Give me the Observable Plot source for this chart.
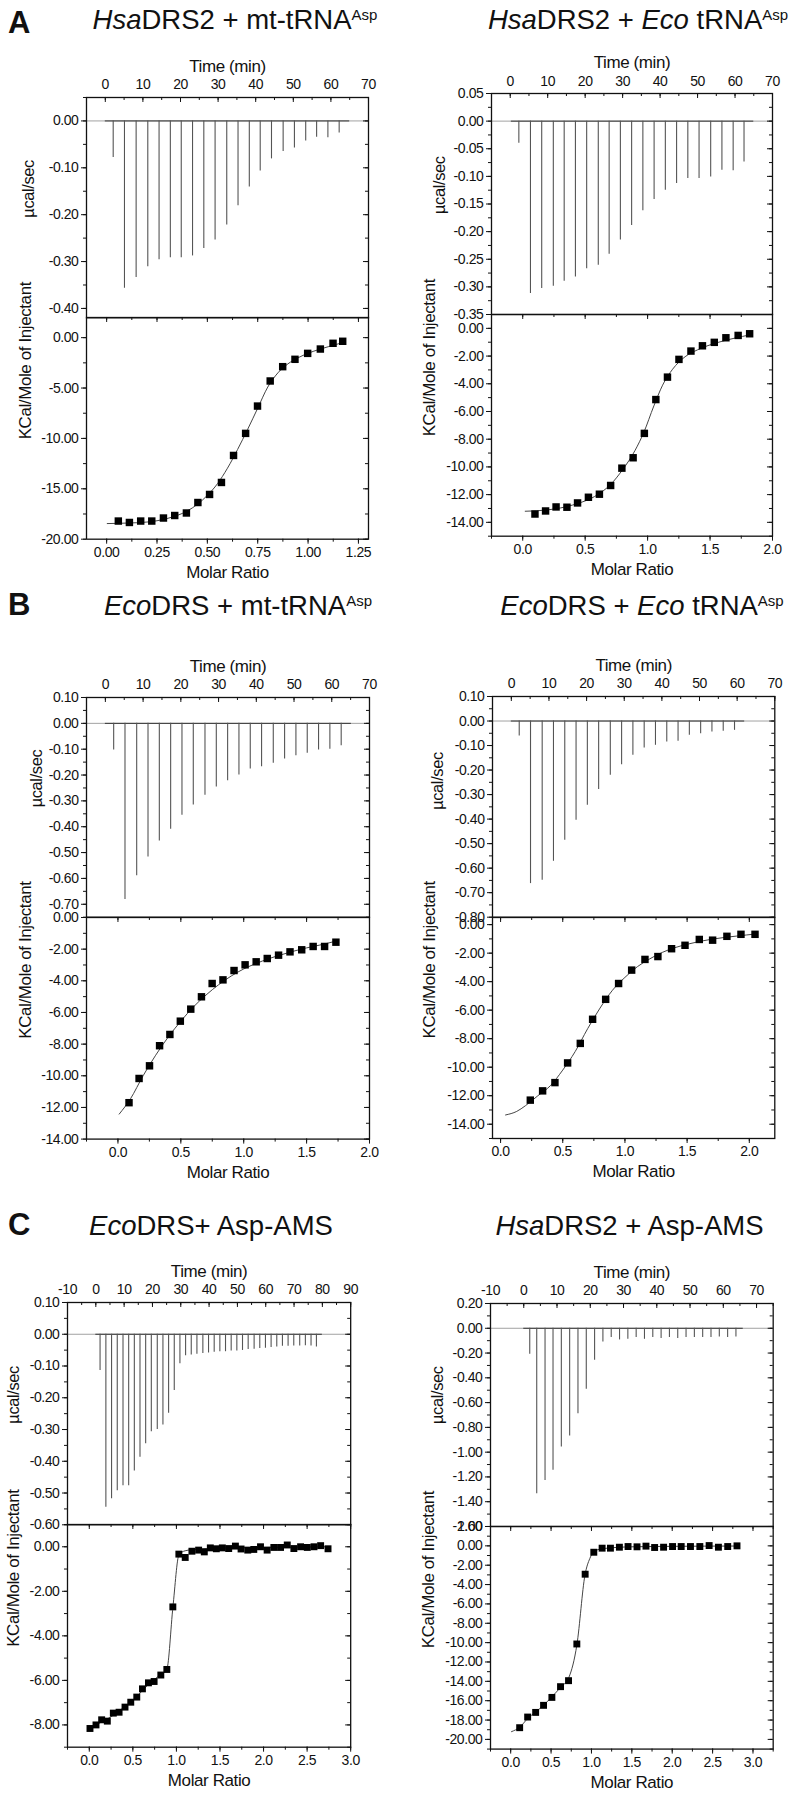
<!DOCTYPE html>
<html><head><meta charset="utf-8">
<script src="https://cdn.jsdelivr.net/npm/d3@7"></script>
<script src="https://cdn.jsdelivr.net/npm/@observablehq/plot@0.6"></script>
<style>
body{margin:0;background:#fff;}
#fig{position:relative;width:800px;height:1798px;overflow:hidden;background:#fff;font-family:"Liberation Sans",Arial,sans-serif;color:#111;}
.title{position:absolute;font-size:27.5px;white-space:nowrap;line-height:1;transform:translateX(-50%);}
.title sup{font-size:15px;vertical-align:9px;line-height:0;}
.letter{position:absolute;font-size:31px;font-weight:bold;line-height:1;}
svg.p{position:absolute;overflow:visible;}
</style></head><body><div id="fig"></div>
<script>
// ---------------- DATA ----------------
// Panel A, left: HsaDRS2 + mt-tRNAAsp
const aL_injTime = [2.1,5.1,8.2,11.3,14.3,17.3,20.2,23.2,26.2,29.2,32.3,35.3,38.3,41.2,44.2,47.3,50.3,53.3,56.2,59.2,62.2];
const aL_injPeak = [-0.078,-0.357,-0.334,-0.311,-0.296,-0.292,-0.292,-0.288,-0.272,-0.254,-0.222,-0.181,-0.141,-0.107,-0.081,-0.065,-0.058,-0.043,-0.035,-0.036,-0.026];
const aL_ratio = [0.058,0.113,0.169,0.224,0.282,0.338,0.396,0.453,0.511,0.570,0.630,0.690,0.749,0.812,0.874,0.935,0.998,1.061,1.124,1.172];
const aL_heat = [-18.2,-18.34,-18.2,-18.2,-17.9,-17.65,-17.4,-16.36,-15.56,-14.37,-11.69,-9.5,-6.79,-4.30,-2.88,-2.15,-1.56,-1.13,-0.56,-0.36];
const aL_fitRatio = [0.003,0.1,0.2,0.3,0.4,0.45,0.5,0.55,0.6,0.65,0.7,0.75,0.8,0.85,0.9,0.95,1.0,1.05,1.1,1.18];
const aL_fitHeat = [-18.45,-18.4,-18.3,-17.95,-17.2,-16.55,-15.65,-14.5,-12.95,-11.1,-9.1,-7.0,-4.9,-3.5,-2.6,-2.0,-1.55,-1.2,-0.9,-0.45];

// Panel A, right: HsaDRS2 + Eco tRNAAsp
const aR_injTime = [2.3,5.4,8.4,11.5,14.4,17.4,20.4,23.5,26.4,29.4,32.4,35.4,38.4,41.4,44.4,47.4,50.4,53.5,56.5,59.5,62.4];
const aR_injPeak = [-0.040,-0.312,-0.303,-0.299,-0.290,-0.282,-0.267,-0.261,-0.241,-0.215,-0.189,-0.162,-0.142,-0.125,-0.113,-0.104,-0.104,-0.101,-0.089,-0.090,-0.074];
const aR_ratio = [0.098,0.183,0.267,0.354,0.439,0.526,0.614,0.704,0.794,0.884,0.974,1.066,1.159,1.251,1.347,1.439,1.534,1.627,1.725,1.817];
const aR_heat = [-13.4,-13.18,-12.89,-12.91,-12.6,-12.19,-11.97,-11.34,-10.09,-9.34,-7.58,-5.14,-3.52,-2.24,-1.64,-1.26,-1.01,-0.68,-0.51,-0.39];
const aR_fitRatio = [0.02,0.2,0.4,0.6,0.7,0.8,0.9,0.97,1.05,1.12,1.2,1.3,1.4,1.55,1.7,1.82];
const aR_fitHeat = [-13.2,-13.1,-12.75,-12.0,-11.3,-10.2,-8.8,-7.5,-5.6,-4.1,-2.95,-2.05,-1.55,-1.05,-0.7,-0.47];

// Panel B, left: EcoDRS + mt-tRNAAsp
const bL_injTime = [2.2,5.2,8.3,11.3,14.3,17.3,20.3,23.3,26.4,29.4,32.4,35.4,38.4,41.4,44.5,47.5,50.5,53.5,56.5,59.5,62.5];
const bL_injPeak = [-0.103,-0.682,-0.590,-0.517,-0.455,-0.41,-0.356,-0.316,-0.278,-0.246,-0.222,-0.20,-0.177,-0.168,-0.154,-0.138,-0.125,-0.116,-0.103,-0.10,-0.087];
const bL_ratio = [0.088,0.168,0.251,0.331,0.413,0.496,0.579,0.664,0.749,0.835,0.923,1.011,1.099,1.187,1.277,1.368,1.461,1.552,1.643,1.733];
const bL_heat = [-11.7,-10.17,-9.37,-8.1,-7.39,-6.55,-5.79,-5.01,-4.17,-3.94,-3.35,-2.99,-2.8,-2.59,-2.38,-2.17,-2.04,-1.83,-1.83,-1.56];
const bL_fitRatio = [0.01,0.1,0.2,0.3,0.4,0.5,0.6,0.7,0.8,0.9,1.0,1.1,1.2,1.3,1.4,1.5,1.6,1.73];
const bL_fitHeat = [-12.42,-11.45,-10.0,-8.7,-7.55,-6.55,-5.65,-4.9,-4.25,-3.7,-3.25,-2.9,-2.6,-2.35,-2.12,-1.92,-1.75,-1.5];

// Panel B, right: EcoDRS + Eco tRNAAsp
const bR_injTime = [2.1,5.1,8.2,11.2,14.2,17.2,20.2,23.2,26.3,29.3,32.3,35.3,38.3,41.3,44.3,47.3,50.3,53.3,56.3,59.3];
const bR_injPeak = [-0.061,-0.663,-0.649,-0.572,-0.486,-0.405,-0.344,-0.279,-0.221,-0.178,-0.140,-0.110,-0.099,-0.086,-0.083,-0.058,-0.052,-0.045,-0.042,-0.038];
const bR_ratio = [0.239,0.338,0.437,0.539,0.641,0.740,0.845,0.949,1.054,1.161,1.265,1.375,1.483,1.598,1.705,1.820,1.933,2.046];
const bR_heat = [-12.31,-11.66,-11.08,-9.70,-8.33,-6.64,-5.24,-4.13,-3.19,-2.44,-2.24,-1.69,-1.45,-1.04,-1.09,-0.82,-0.68,-0.68];
const bR_fitRatio = [0.04,0.13,0.2,0.3,0.4,0.5,0.6,0.7,0.8,0.9,1.0,1.1,1.2,1.3,1.4,1.5,1.6,1.7,1.8,1.9,2.05];
const bR_fitHeat = [-13.35,-13.1,-12.7,-12.0,-11.3,-10.2,-8.9,-7.3,-5.85,-4.6,-3.7,-2.95,-2.4,-1.95,-1.62,-1.38,-1.18,-1.02,-0.9,-0.8,-0.66];

// Panel C, left: EcoDRS+ Asp-AMS
const cL_injTime = [1.5,3.55,5.56,7.57,9.6,11.6,13.6,15.6,17.6,19.6,21.7,23.7,25.7,27.7,29.7,31.7,33.7,35.7,37.8,39.8,41.8,43.8,45.8,47.8,49.8,51.8,53.8,55.9,57.9,59.9,61.9,63.9,65.9,67.9,69.9,72,74,76,77.9];
const cL_injPeak = [-0.114,-0.545,-0.518,-0.493,-0.477,-0.477,-0.431,-0.387,-0.345,-0.307,-0.30,-0.286,-0.249,-0.177,-0.093,-0.068,-0.065,-0.063,-0.061,-0.059,-0.057,-0.055,-0.055,-0.053,-0.053,-0.051,-0.048,-0.047,-0.045,-0.044,-0.042,-0.040,-0.038,-0.038,-0.037,-0.037,-0.036,-0.037,-0.040];
const cL_ratio = [0.008,0.077,0.142,0.207,0.276,0.342,0.41,0.476,0.545,0.61,0.679,0.744,0.821,0.89,0.959,1.028,1.101,1.178,1.255,1.32,1.389,1.458,1.527,1.6,1.677,1.742,1.819,1.888,1.965,2.041,2.118,2.195,2.272,2.348,2.425,2.502,2.579,2.655,2.74];
const cL_heat = [-8.16,-8.0,-7.77,-7.83,-7.47,-7.43,-7.2,-6.98,-6.75,-6.38,-6.11,-6.05,-5.76,-5.51,-2.70,-0.33,-0.48,-0.2,-0.15,-0.23,-0.05,-0.09,-0.05,-0.08,0.03,-0.1,-0.15,-0.12,0,-0.15,-0.03,-0.03,0.08,-0.08,0,-0.03,0,0.05,-0.09];
const cL_fitRatio = [0.0,0.1,0.2,0.3,0.4,0.5,0.6,0.7,0.8,0.89,0.96,1.03,1.1,1.2,1.5,2.0,2.5,2.74];
const cL_fitHeat = [-8.15,-7.95,-7.75,-7.5,-7.2,-6.9,-6.5,-6.1,-5.8,-5.5,-2.7,-0.35,-0.18,-0.12,-0.06,-0.03,-0.01,0.0];

// Panel C, right: HsaDRS2 + Asp-AMS
const cR_injTime = [1.8,3.9,6.4,8.8,11.3,13.8,16.3,18.8,21.3,23.8,26.3,28.8,31.3,33.8,36.3,38.8,41.3,43.8,46.3,48.8,51.3,53.8,56.3,58.8,61.3,63.8];
const cR_injPeak = [-0.21,-1.335,-1.228,-1.147,-0.959,-0.870,-0.689,-0.493,-0.258,-0.110,-0.075,-0.094,-0.089,-0.075,-0.089,-0.075,-0.083,-0.075,-0.083,-0.075,-0.075,-0.075,-0.075,-0.07,-0.075,-0.07];
const cR_ratio = [0.111,0.21,0.309,0.407,0.51,0.617,0.716,0.819,0.922,1.029,1.132,1.235,1.346,1.453,1.564,1.675,1.782,1.893,2.004,2.111,2.226,2.342,2.457,2.572,2.687,2.802];
const cR_heat = [-18.79,-17.69,-17.21,-16.48,-15.66,-14.55,-13.93,-10.14,-2.93,-0.66,-0.24,-0.24,-0.14,-0.07,-0.1,-0.03,-0.17,-0.14,-0.07,-0.07,-0.07,-0.07,0.03,-0.14,-0.07,0];
const cR_fitRatio = [0.01,0.11,0.21,0.31,0.41,0.51,0.62,0.72,0.82,0.92,0.98,1.03,1.13,1.5,2.0,2.8];
const cR_fitHeat = [-19.2,-18.75,-17.85,-17.15,-16.45,-15.6,-14.6,-13.6,-10.2,-3.0,-1.3,-0.6,-0.3,-0.1,-0.05,-0.02];

// Tick labels
const timeTicks70 = [0,10,20,30,40,50,60,70];
const timeTicksC1 = [-10,0,10,20,30,40,50,60,70,80,90];
const timeTicksC2 = [-10,0,10,20,30,40,50,60,70];
const aL_rawTicks = [0,-0.1,-0.2,-0.3,-0.4];
const aR_rawTicks = [0.05,0,-0.05,-0.1,-0.15,-0.2,-0.25,-0.3,-0.35];
const bL_rawTicks = [0.1,0,-0.1,-0.2,-0.3,-0.4,-0.5,-0.6,-0.7];
const bR_rawTicks = [0.1,0,-0.1,-0.2,-0.3,-0.4,-0.5,-0.6,-0.7,-0.8];
const cL_rawTicks = [0.1,0,-0.1,-0.2,-0.3,-0.4,-0.5,-0.6];
const cR_rawTicks = [0.2,0,-0.2,-0.4,-0.6,-0.8,-1.0,-1.2,-1.4,-1.6];
const aL_ratioTicks = [0,0.25,0.5,0.75,1.0,1.25];
const ratioTicks2 = [0,0.5,1.0,1.5,2.0];
const ratioTicks3 = [0,0.5,1.0,1.5,2.0,2.5,3.0];
const aL_heatTicks = [0,-5,-10,-15,-20];
const heatTicks14 = [0,-2,-4,-6,-8,-10,-12,-14];
const cL_heatTicks = [0,-2,-4,-6,-8];
const cR_heatTicks = [2,0,-2,-4,-6,-8,-10,-12,-14,-16,-18,-20];

// ---------------- LAYOUT ----------------
const panels = [
  {letter:"A", title:'<i>Hsa</i>DRS2 + mt-tRNA<sup>Asp</sup>', tx:235, tb:29,
   up:{x0:86,x1:368,y0:97,y1:317.3}, lowY1:539,
   tDom:[-5,70], tTicks:timeTicks70, rDom:[-0.42,0.05], rTicks:aL_rawTicks, rMinor:0.05, rFmt:2,
   xDom:[-0.1,1.3], xTicks:aL_ratioTicks, xMinor:0.125, xFmt:2, hDom:[-20,2], hTicks:aL_heatTicks, hMinor:2.5,
   inj:[aL_injTime,aL_injPeak], span:[0,65], pts:[aL_ratio,aL_heat], fit:[aL_fitRatio,aL_fitHeat],
   uLab:[-58,10], lLab:[-61,11], r:4.2},
  {letter:null, title:'<i>Hsa</i>DRS2 + <i>Eco</i> tRNA<sup>Asp</sup>', tx:638, tb:29,
   up:{x0:490.7,x1:771.7,y0:93.3,y1:314.3}, lowY1:536,
   tDom:[-5,70], tTicks:timeTicks70, rDom:[-0.35,0.05], rTicks:aR_rawTicks, rMinor:0.025, rFmt:2,
   xDom:[-0.25,2.0], xTicks:ratioTicks2, xMinor:0.25, xFmt:1, hDom:[-15,1], hTicks:heatTicks14, hMinor:1,
   inj:[aR_injTime,aR_injPeak], span:[0.3,65], pts:[aR_ratio,aR_heat], fit:[aR_fitRatio,aR_fitHeat],
   uLab:[-52,10], lLab:[-62,11], r:4.2},
  {letter:"B", title:'<i>Eco</i>DRS + mt-tRNA<sup>Asp</sup>', tx:238, tb:615,
   up:{x0:86,x1:369,y0:697,y1:916.7}, lowY1:1138.3,
   tDom:[-5,70], tTicks:timeTicks70, rDom:[-0.75,0.1], rTicks:bL_rawTicks, rMinor:0.05, rFmt:2,
   xDom:[-0.25,2.0], xTicks:ratioTicks2, xMinor:0.25, xFmt:1, hDom:[-14,0], hTicks:heatTicks14, hMinor:1,
   inj:[bL_injTime,bL_injPeak], span:[0,65.2], pts:[bL_ratio,bL_heat], fit:[bL_fitRatio,bL_fitHeat],
   uLab:[-50,0], lLab:[-61,10.5], r:4.2},
  {letter:null, title:'<i>Eco</i>DRS + <i>Eco</i> tRNA<sup>Asp</sup>', tx:642, tb:615,
   up:{x0:491.7,x1:774,y0:696,y1:916.7}, lowY1:1137.7,
   tDom:[-5,70], tTicks:timeTicks70, rDom:[-0.8,0.1], rTicks:bR_rawTicks, rMinor:0.05, rFmt:2,
   xDom:[-0.065,2.205], xTicks:ratioTicks2, xMinor:0.25, xFmt:1, hDom:[-15,0.5], hTicks:heatTicks14, hMinor:1,
   inj:[bR_injTime,bR_injPeak], span:[0,62], pts:[bR_ratio,bR_heat], fit:[bR_fitRatio,bR_fitHeat],
   uLab:[-55,3], lLab:[-63,10.5], r:4.2},
  {letter:"C", title:'<i>Eco</i>DRS+ Asp-AMS', tx:211, tb:1235,
   up:{x0:67.3,x1:350.5,y0:1301.7,y1:1524}, lowY1:1746.7,
   tDom:[-10,90], tTicks:timeTicksC1, rDom:[-0.6,0.1], rTicks:cL_rawTicks, rMinor:0.05, rFmt:2,
   xDom:[-0.25,3.0], xTicks:ratioTicks3, xMinor:0.25, xFmt:1, hDom:[-9,1], hTicks:cL_heatTicks, hMinor:1,
   inj:[cL_injTime,cL_injPeak], span:[0,80], pts:[cL_ratio,cL_heat], fit:[cL_fitRatio,cL_fitHeat],
   uLab:[-54,10], lLab:[-54,11], r:3.9},
  {letter:null, title:'<i>Hsa</i>DRS2 + Asp-AMS', tx:629.5, tb:1235,
   up:{x0:490,x1:772.7,y0:1302.7,y1:1525.7}, lowY1:1748.3,
   tDom:[-10,75], tTicks:timeTicksC2, rDom:[-1.6,0.2], rTicks:cR_rawTicks, rMinor:0.1, rFmt:2,
   xDom:[-0.25,3.25], xTicks:ratioTicks3, xMinor:0.25, xFmt:1, hDom:[-21,2], hTicks:cR_heatTicks, hMinor:1,
   inj:[cR_injTime,cR_injPeak], span:[0,66], pts:[cR_ratio,cR_heat], fit:[cR_fitRatio,cR_fitHeat],
   uLab:[-53,9], lLab:[-62,10.5], r:3.9}
];
const letterPos = {A:[8,33], B:[8,615], C:[8,1235]};

const fig = document.getElementById("fig");
const FONT = '"Liberation Sans", Arial, sans-serif';
const mL = 80, mR = 14, mT = 54, mB = 54;
const MAJ = 5, MIN = 3;
const STYLE = {background: "transparent", fontFamily: FONT, fontSize: "14px", letterSpacing: "-0.4px", color: "#111", overflow: "visible"};

function minorTicks(dom, step) {
  const lo = Math.ceil(dom[0] / step - 1e-9), hi = Math.floor(dom[1] / step + 1e-9);
  return d3.range(lo, hi + 1).map(k => +(k * step).toFixed(6));
}

function place(svg, frame) {
  svg.classList.add("p");
  svg.style.left = (frame.x0 - mL) + "px";
  svg.style.top = (frame.y0 - mT) + "px";
  svg.style.maxWidth = "none";
  fig.appendChild(svg);
}

function upperPlot(p) {
  const f = p.up, fw = f.x1 - f.x0, fh = f.y1 - f.y0;
  const inj = p.inj[0].map((t, i) => ({t, peak: p.inj[1][i]}));
  const tMinor = minorTicks(p.tDom, 5);
  const rMinor = minorTicks(p.rDom, p.rMinor);
  const svg = Plot.plot({
    width: fw + mL + mR, height: fh + mT + mB,
    marginLeft: mL, marginRight: mR, marginTop: mT, marginBottom: mB,
    x: {domain: p.tDom}, y: {domain: p.rDom},
    style: STYLE,
    marks: [
      Plot.ruleY([0], {stroke: "#8a8a8a", strokeWidth: 0.8}),
      Plot.ruleY([0], {x1: p.span[0], x2: p.span[1], stroke: "#333", strokeWidth: 1}),
      Plot.ruleX(inj, {x: "t", y1: 0, y2: "peak", stroke: "#555", strokeWidth: 1.1}),
      Plot.frame({stroke: "#111", strokeWidth: 1.3}),
      Plot.axisX(p.tTicks, {anchor: "top", tickSize: 0, tickPadding: 8, tickFormat: d => String(d), label: null}),
      Plot.tickX(p.tTicks, {x: d => d, insetBottom: fh - MAJ, stroke: "#111"}),
      Plot.tickX(tMinor, {x: d => d, insetBottom: fh - MIN, stroke: "#111"}),
      Plot.axisY(p.rTicks, {anchor: "left", tickSize: MAJ, tickPadding: 3, tickFormat: d => d.toFixed(p.rFmt), label: null}),
      Plot.tickY(rMinor, {y: d => d, insetLeft: -MIN, insetRight: fw, stroke: "#111"}),
      Plot.tickY(p.rTicks, {y: d => d, insetLeft: fw - MAJ, stroke: "#111"}),
      Plot.tickY(rMinor, {y: d => d, insetLeft: fw - MIN, stroke: "#111"}),
      Plot.text(["Time (min)"], {frameAnchor: "top", dy: -38, fontSize: 17}),
      Plot.text(["µcal/sec"], {frameAnchor: "left", rotate: -90, dx: p.uLab[0], dy: p.uLab[1], fontSize: 16.5})
    ]
  });
  place(svg, f);
}

function lowerPlot(p) {
  const f = {x0: p.up.x0, x1: p.up.x1, y0: p.up.y1, y1: p.lowY1};
  const fw = f.x1 - f.x0, fh = f.y1 - f.y0;
  const pts = p.pts[0].map((x, i) => ({ratio: x, heat: p.pts[1][i]}));
  const fit = p.fit[0].map((x, i) => ({ratio: x, heat: p.fit[1][i]}));
  const xMinor = minorTicks(p.xDom, p.xMinor);
  const hMinor = minorTicks(p.hDom, p.hMinor);
  const svg = Plot.plot({
    width: fw + mL + mR, height: fh + mT + mB,
    marginLeft: mL, marginRight: mR, marginTop: mT, marginBottom: mB,
    x: {domain: p.xDom}, y: {domain: p.hDom},
    style: STYLE,
    marks: [
      Plot.frame({stroke: "#111", strokeWidth: 1.3}),
      Plot.line(fit, {x: "ratio", y: "heat", curve: "monotone-x", stroke: "#444", strokeWidth: 1}),
      Plot.dot(pts, {x: "ratio", y: "heat", symbol: "square", r: p.r, fill: "#000", stroke: "none"}),
      Plot.axisX(p.xTicks, {anchor: "bottom", tickSize: MAJ, tickPadding: 3, tickFormat: d => d.toFixed(p.xFmt), label: null}),
      Plot.tickX(xMinor, {x: d => d, insetTop: fh, insetBottom: -MIN, stroke: "#111"}),
      Plot.tickX(p.xTicks, {x: d => d, insetBottom: fh - MAJ, stroke: "#111"}),
      Plot.tickX(xMinor, {x: d => d, insetBottom: fh - MIN, stroke: "#111"}),
      Plot.axisY(p.hTicks, {anchor: "left", tickSize: MAJ, tickPadding: 3, tickFormat: d => d.toFixed(2), label: null}),
      Plot.tickY(hMinor, {y: d => d, insetLeft: -MIN, insetRight: fw, stroke: "#111"}),
      Plot.tickY(p.hTicks, {y: d => d, insetLeft: fw - MAJ, stroke: "#111"}),
      Plot.tickY(hMinor, {y: d => d, insetLeft: fw - MIN, stroke: "#111"}),
      Plot.text(["Molar Ratio"], {frameAnchor: "bottom", dy: 39, fontSize: 17}),
      Plot.text(["KCal/Mole of Injectant"], {frameAnchor: "left", rotate: -90, dx: p.lLab[0], dy: p.lLab[1], fontSize: 17})
    ]
  });
  place(svg, f);
}

for (const p of panels) {
  upperPlot(p);
  lowerPlot(p);
  const t = document.createElement("div");
  t.className = "title";
  t.innerHTML = p.title;
  t.style.left = p.tx + "px";
  t.style.top = (p.tb - 0.8465 * 27.5) + "px";
  fig.appendChild(t);
}
for (const [k, [x, b]] of Object.entries(letterPos)) {
  const d = document.createElement("div");
  d.className = "letter";
  d.textContent = k;
  d.style.left = x + "px";
  d.style.top = (b - 0.8465 * 31) + "px";
  fig.appendChild(d);
}
</script></body></html>
